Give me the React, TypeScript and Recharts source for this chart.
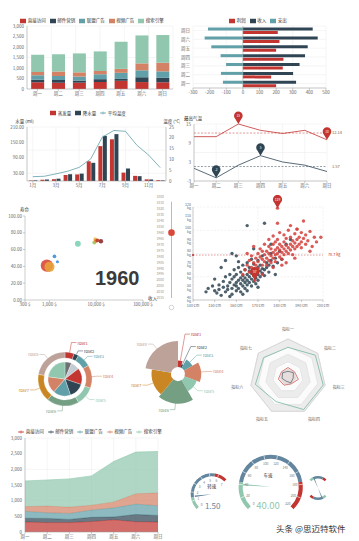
import React from 'react';
import {
  BarChart, Bar, XAxis, YAxis, CartesianGrid, Legend, ComposedChart, Line, LineChart,
  ReferenceDot, ReferenceLine, ScatterChart, Scatter, ZAxis, PieChart, Pie, Cell,
  RadarChart, Radar, PolarGrid, PolarAngleAxis, PolarRadiusAxis, AreaChart, Area,
  RadialBarChart, RadialBar,
} from 'recharts';

// ---------------- data ----------------
const weekDays = ['周一', '周二', '周三', '周四', '周五', '周六', '周日'];
const trafficNames = ['直接访问', '邮件营销', '联盟广告', '视频广告', '搜索引擎'];
const directVisits = [320, 302, 301, 334, 390, 330, 320];
const emailMarketing = [120, 132, 101, 134, 90, 230, 210];
const allianceAds = [220, 182, 191, 234, 290, 330, 310];
const videoAds = [150, 212, 201, 154, 190, 330, 410];
const searchEngine = [820, 832, 901, 934, 1290, 1330, 1320];
const stackTicks = [0, 500, 1000, 1500, 2000, 2500, 3000];

const profitNames = ['利润', '收入', '支出'];
const profit = [200, 170, 240, 244, 200, 220, 210];
const income = [320, 302, 341, 374, 390, 450, 420];
const expense = [-120, -132, -101, -134, -190, -230, -210];
const profitTicks = [-300, -200, -100, 0, 100, 200, 300, 400, 500];

const months = ['1月', '2月', '3月', '4月', '5月', '6月', '7月', '8月', '9月', '10月', '11月', '12月'];
const evaporation = [2.0, 4.9, 7.0, 23.2, 25.6, 76.7, 135.6, 162.2, 32.6, 20.0, 6.4, 3.3];
const precipitation = [2.6, 5.9, 9.0, 26.4, 28.7, 70.7, 175.6, 182.2, 48.7, 18.8, 6.0, 2.3];
const avgTemperature = [2.0, 2.2, 3.3, 4.5, 6.3, 10.2, 20.3, 23.4, 23.0, 16.5, 12.0, 6.2];
const waterTicks = [0, 30, 60, 90, 120, 150, 180, 210];
const tempTicks = [0, 5, 10, 15, 20, 25];

const highTemp = [11, 11, 15, 13, 12, 13, 10];
const lowTemp = [1, -2, 2, 5, 3, 2, 0];
const weekTempTicks = [-3, 0, 3, 6, 9, 12, 15];

const bubbleIncome = [880, 1000, 1280, 1480, 4050, 9100, 9500, 9900, 10600, 12600];
const bubbleLife = [41, 39.5, 52, 45.5, 67, 68.5, 72.5, 70.5, 71, 70];
const bubblePopulation = [667, 450, 60, 40, 150, 70, 60, 80, 60, 85];
const bubbleColors = ['#d9483b', '#e9a23b', '#3f8fd8', '#3f8fd8', '#7fd1b4', '#9cc95c', '#f2c14e', '#e58a3a', '#c0392b', '#8b2e2e'];
const incomeTicks = [300, 1000, 10000, 100000];
const lifeTicks = [0, 20, 40, 60, 80, 100];
const timelineYears = ['1800', '1810', '1820', '1830', '1840', '1850', '1960', '1965', '1970', '1975', '1980', '1985', '1990', '1995', '2000', '2005', '2010', '2015'];
const currentYear = '1960';

const darkPoints = [
  [147, 50], [149, 52], [150, 48], [151, 46], [152, 53], [152, 49], [153, 44], [154, 51], [154, 56], [155, 47],
  [155, 60], [156, 52], [156, 49], [157, 55], [157, 62], [158, 50], [158, 58], [158, 45], [159, 53], [159, 66],
  [159, 60], [160, 48], [160, 55], [160, 52], [160, 62], [161, 57], [161, 50], [161, 68], [162, 54], [162, 59],
  [162, 47], [162, 64], [163, 52], [163, 57], [163, 61], [163, 70], [164, 55], [164, 50], [164, 66], [164, 59],
  [165, 53], [165, 62], [165, 57], [165, 72], [165, 48], [166, 60], [166, 55], [166, 65], [166, 68], [167, 58],
  [167, 52], [167, 63], [167, 75], [168, 61], [168, 56], [168, 66], [168, 71], [169, 59], [169, 64], [169, 54],
  [170, 62], [170, 68], [170, 57], [170, 74], [171, 65], [171, 60], [171, 70], [172, 63], [172, 67], [172, 78],
  [173, 66], [173, 61], [174, 72], [174, 68], [175, 70], [175, 64], [176, 74], [176, 80], [177, 69], [178, 76],
  [179, 72], [180, 82], [181, 75], [183, 88], [185, 92], [165, 104], [173, 106], [158, 80], [155, 74], [150, 58],
  [153, 68], [160, 78], [168, 84], [176, 88], [178, 62], [157, 43], [163, 45], [170, 51], [146, 47], [161, 73],
];
const redPoints = [
  [163, 62], [164, 66], [165, 70], [166, 64], [166, 74], [167, 68], [167, 78], [168, 72], [168, 65], [169, 76],
  [169, 70], [170, 80], [170, 73], [170, 67], [171, 77], [171, 84], [172, 70], [172, 75], [172, 82], [173, 79],
  [173, 73], [173, 88], [174, 76], [174, 82], [174, 70], [175, 80], [175, 86], [175, 74], [175, 92], [176, 78],
  [176, 84], [176, 72], [177, 81], [177, 88], [177, 76], [177, 95], [178, 83], [178, 79], [178, 90], [178, 73],
  [179, 85], [179, 80], [179, 92], [180, 77], [180, 83], [180, 88], [180, 98], [181, 81], [181, 86], [181, 75],
  [182, 84], [182, 90], [182, 79], [182, 96], [183, 82], [183, 87], [183, 93], [184, 85], [184, 80], [184, 100],
  [185, 88], [185, 83], [185, 94], [186, 86], [186, 91], [186, 79], [187, 89], [187, 84], [187, 97], [188, 92],
  [188, 86], [188, 101], [189, 88], [189, 94], [190, 90], [190, 85], [190, 98], [191, 93], [192, 88], [192, 96],
  [193, 91], [194, 99], [195, 86], [196, 94], [197, 90], [199, 94], [191, 108], [188, 101], [185, 104], [179, 106],
  [172, 62], [177, 68], [168, 86], [165, 80], [183, 72], [187, 76], [194, 82], [179, 119], [168.5, 57], [181, 70],
];
const heightTicks = [140, 150, 160, 170, 180, 190, 200];
const weightTicks = [40, 50, 60, 70, 80, 90, 100, 110, 120];
const redAvgWeight = 78.7;

const roseNames = ['rose1', 'rose2', 'rose3', 'rose4', 'rose5', 'rose6', 'rose7', 'rose8'];
const roseValues = [10, 5, 15, 25, 20, 35, 30, 40];
const innerPieNames = ['a', 'b', 'c', 'd', 'e', 'f', 'g'];
const innerPieValues = [6, 8, 15, 14, 16, 15, 22];

const radarIndicators = ['指标一', '指标二', '指标三', '指标四', '指标五', '指标六', '指标七'];
const radarGreen = [78, 92, 95, 95, 72, 88, 82];
const radarRed = [25, 22, 28, 20, 24, 26, 22];
const radarDark = [15, 18, 14, 17, 12, 16, 18];
const radarSplits = [100, 80, 60, 40, 20];

const speedValue = 40;
const speedMax = 220;
const speedTicks = [0, 20, 40, 60, 80, 100, 120, 140, 160, 180, 200, 220];
const rpmValue = 1.5;
const rpmMax = 7;
const rpmTicks = [0, 1, 2, 3, 4, 5, 6, 7];
const fuelValue = 0.5;
const waterValue = 0.5;
const smallMax = 2;
const gaugeStops = [0.2, 0.8, 1.0];

// ---------------- styles ----------------
const FONT = '"Noto Sans CJK SC", "Noto Sans", "Liberation Sans", sans-serif';
const C = {
  red: '#c23531', dark: '#2f4554', teal: '#61a0a8', orange: '#d48265', green: '#91c7ae',
  g2: '#749f83', amber: '#ca8622', brown: '#bda29a', gray: '#6e7074', slate: '#546570', light: '#c4ccd3',
};
const trafficColors = [C.red, C.dark, C.teal, C.orange, C.green];
const roseColors = [C.red, C.dark, C.teal, C.orange, C.green, C.g2, C.amber, C.brown];
const innerPieColors = [C.gray, C.light, C.red, C.dark, C.teal, C.orange, C.green];
const nestedLabelLen = [10, 4, 5, 5, 5, 5, 5, 5];
const roseLabelLen = [27, 20, 10, 6, 6, 6, 6, 6];
const gaugeColors = ['#91c7ae', '#63869e', '#c23531'];
const TICK = { fontSize: 4.5, fill: '#666' };
const AXIS = { stroke: '#999', strokeWidth: 0.5 };
const GRID = '#ebebeb';
const legendText = (v: any) => <span style={{ color: '#333' }}>{v}</span>;
const legendBase: any = { verticalAlign: 'middle', align: 'center', layout: 'horizontal', iconSize: 6, formatter: legendText, itemSorter: 'dataKey' };
const legendWrap = { fontSize: 4.5, lineHeight: '7px' };
const fmtComma = (v: number) => v.toLocaleString('en-US');

const css = `
.recharts-legend-item { margin-right: 4px !important; }
.recharts-legend-item svg { margin-right: 1.5px !important; }
`;

function makePin(color: string, text: string, r = 4.3) {
  return (p: any) => {
    const { cx, cy } = p;
    if (cx == null || cy == null) return <g />;
    const by = cy - r * 1.9;
    const sx = r * 0.72;
    const sy = r * 0.69;
    const d = `M${cx},${cy} L${cx - sx},${by + sy} A${r},${r} 0 1 1 ${cx + sx},${by + sy} Z`;
    return (
      <g>
        <path d={d} fill={color} />
        <text x={cx} y={by} textAnchor="middle" dominantBaseline="central" fontSize={r * 0.72} fill="#fff">{text}</text>
      </g>
    );
  };
}

// ---------------- charts ----------------
const stackData = weekDays.map((day, i) => ({
  day, v0: directVisits[i], v1: emailMarketing[i], v2: allianceAds[i], v3: videoAds[i], v4: searchEngine[i],
}));
const trafficKeys = ['v0', 'v1', 'v2', 'v3', 'v4'];

function StackedBars() {
  return (
    <div style={{ position: 'absolute', left: 0, top: 0 }}>
      <BarChart width={180} height={100} data={stackData} margin={{ top: 26, right: 7, bottom: 3, left: 0 }} barCategoryGap="20%">
        <XAxis xAxisId="g" type="number" domain={[0, 7]} ticks={[0, 1, 2, 3, 4, 5, 6, 7]} hide />
        <CartesianGrid xAxisId="g" stroke={GRID} strokeWidth={0.5} />
        <XAxis dataKey="day" interval={0} height={8} tick={TICK} tickSize={2} tickMargin={1} axisLine={AXIS} tickLine={AXIS} />
        <YAxis width={27} domain={[0, 3000]} ticks={stackTicks} tickFormatter={fmtComma} tick={TICK} tickSize={2} tickMargin={1} axisLine={AXIS} tickLine={false} />
        <Legend {...legendBase} wrapperStyle={{ ...legendWrap, top: 17, left: 14, width: 160 }} />
        {trafficKeys.map((k, i) => (
          <Bar key={k} dataKey={k} name={trafficNames[i]} stackId="t" fill={trafficColors[i]} isAnimationActive={false} />
        ))}
      </BarChart>
    </div>
  );
}

const profitData = weekDays.map((day, i) => ({ day, k0: profit[i], k1: income[i], k2: expense[i] }));

function ProfitBars() {
  return (
    <div style={{ position: 'absolute', left: 180, top: 0 }}>
      <BarChart layout="vertical" width={179} height={100} data={profitData} margin={{ top: 26, right: 33, bottom: 4, left: 0 }}
        stackOffset="sign" barCategoryGap="18%" barGap={0.5}>
        <CartesianGrid stroke={GRID} strokeWidth={0.5} />
        <XAxis type="number" domain={[-300, 500]} ticks={profitTicks} height={8} tick={TICK} tickSize={2} tickMargin={1} axisLine={AXIS} tickLine={AXIS} />
        <YAxis type="category" dataKey="day" reversed width={13} tick={TICK} tickSize={2} tickMargin={1} axisLine={false} tickLine={false} interval={0} />
        <ReferenceLine x={0} stroke="#999" strokeWidth={0.5} />
        <Legend {...legendBase} wrapperStyle={{ ...legendWrap, top: 17, left: 30, width: 100 }} />
        <Bar dataKey="k0" name={profitNames[0]} fill={C.red} isAnimationActive={false} />
        <Bar dataKey="k1" name={profitNames[1]} stackId="total" fill={C.dark} isAnimationActive={false} />
        <Bar dataKey="k2" name={profitNames[2]} stackId="total" fill={C.teal} isAnimationActive={false} />
      </BarChart>
    </div>
  );
}

const rainData = months.map((m, i) => ({ m, k0: evaporation[i], k1: precipitation[i], k2: avgTemperature[i] }));

function RainChart() {
  return (
    <div style={{ position: 'absolute', left: 0, top: 100 }}>
      <ComposedChart width={180} height={100} data={rainData} margin={{ top: 27, right: 2, bottom: 11, left: 0 }} barGap={0.5} barCategoryGap="16%">
        <CartesianGrid yAxisId="l" stroke={GRID} strokeWidth={0.5} />
        <XAxis dataKey="m" interval={1} height={8} tick={TICK} tickSize={2} tickMargin={1} axisLine={AXIS} tickLine={AXIS} />
        <YAxis yAxisId="l" width={27} domain={[0, 210]} ticks={waterTicks} tickFormatter={(v: number) => v.toFixed(2)} tick={TICK}
          tickSize={2} tickMargin={1} axisLine={AXIS} tickLine={false}
          label={{ value: '水量 (ml)', position: 'top', offset: 4, dx: 11, fontSize: 4.5, fill: '#333' }} />
        <YAxis yAxisId="r" orientation="right" width={12} domain={[0, 25]} ticks={tempTicks} tick={TICK}
          tickSize={2} tickMargin={1} axisLine={AXIS} tickLine={false}
          label={{ value: '温度 (°C)', position: 'top', offset: 4, fontSize: 4.5, fill: '#333' }} />
        <Legend {...legendBase} wrapperStyle={{ ...legendWrap, top: 9.5, left: 40, width: 100 }} />
        <Bar yAxisId="l" dataKey="k0" name="蒸发量" fill={C.red} isAnimationActive={false} />
        <Bar yAxisId="l" dataKey="k1" name="降水量" fill={C.dark} isAnimationActive={false} />
        <Line yAxisId="r" dataKey="k2" name="平均温度" stroke={C.teal} strokeWidth={0.8} dot={false} isAnimationActive={false} />
      </ComposedChart>
    </div>
  );
}

const tempData = weekDays.map((day, i) => ({ day, hi: highTemp[i], lo: lowTemp[i] }));
const avgHi = highTemp.reduce((a, b) => a + b, 0) / highTemp.length;
const avgLo = lowTemp.reduce((a, b) => a + b, 0) / lowTemp.length;
const maxHi = Math.max(...highTemp);
const minHi = Math.min(...highTemp);
const maxLo = Math.max(...lowTemp);
const minLo = Math.min(...lowTemp);

function TempChart() {
  return (
    <div style={{ position: 'absolute', left: 180, top: 100 }}>
      <LineChart width={179} height={100} data={tempData} margin={{ top: 24, right: 32, bottom: 11, left: 0 }}>
        <CartesianGrid stroke={GRID} strokeWidth={0.5} />
        <XAxis dataKey="day" interval={0} height={8} tick={TICK} tickSize={2} tickMargin={1} axisLine={AXIS} tickLine={AXIS} />
        <YAxis width={14} domain={[-3, 15]} ticks={weekTempTicks} tick={TICK} tickSize={2} tickMargin={1} axisLine={AXIS} tickLine={false}
          label={{ value: '最高气温', position: 'top', offset: 4, dx: 6, fontSize: 4.5, fill: '#333' }} />
        <ReferenceLine y={avgHi} stroke={C.red} strokeWidth={0.5} strokeDasharray="2 1.5"
          label={{ value: avgHi.toFixed(2), position: 'right', fontSize: 4, fill: '#666' }} />
        <ReferenceLine y={avgLo} stroke={C.dark} strokeWidth={0.5} strokeDasharray="2 1.5"
          label={{ value: avgLo.toFixed(2), position: 'right', fontSize: 4, fill: '#666' }} />
        <Line dataKey="hi" name="最高气温" stroke={C.red} strokeWidth={0.8} dot={false} isAnimationActive={false} />
        <Line dataKey="lo" name="最低气温" stroke={C.dark} strokeWidth={0.8} dot={false} isAnimationActive={false} />
        <ReferenceDot x={weekDays[highTemp.indexOf(maxHi)]} y={maxHi} ifOverflow="visible" shape={makePin(C.red, String(maxHi))} />
        <ReferenceDot x={weekDays[highTemp.lastIndexOf(minHi)]} y={minHi} ifOverflow="visible" shape={makePin(C.red, String(minHi))} />
        <ReferenceDot x={weekDays[lowTemp.indexOf(maxLo)]} y={maxLo} ifOverflow="visible" shape={makePin(C.dark, String(maxLo))} />
        <ReferenceDot x={weekDays[lowTemp.indexOf(minLo)]} y={minLo} ifOverflow="visible" shape={makePin(C.dark, String(minLo))} />
      </LineChart>
    </div>
  );
}

const bubbleData = bubbleIncome.map((x, i) => ({ x, y: bubbleLife[i], z: bubblePopulation[i] }));

function BubbleChart() {
  return (
    <div style={{ position: 'absolute', left: 0, top: 195 }}>
      <ScatterChart width={180} height={130} margin={{ top: 21, right: 37, bottom: 17, left: 0 }}>
        <XAxis type="number" dataKey="x" scale="log" domain={[300, 100000]} ticks={incomeTicks} tickFormatter={(v: number) => fmtComma(v) + ' $'}
          height={8} tick={TICK} tickSize={2} tickMargin={1} axisLine={AXIS} tickLine={AXIS} allowDataOverflow
          label={{ value: '收入', position: 'right', offset: 5, dy: -6, fontSize: 4.5, fill: '#333' }} />
        <YAxis type="number" dataKey="y" domain={[0, 100]} ticks={lifeTicks} tickFormatter={(v: number) => v.toFixed(2)} width={25}
          tick={TICK} tickSize={2} tickMargin={1} axisLine={AXIS} tickLine={AXIS}
          label={{ value: '寿命', position: 'top', offset: 5, dx: 12, fontSize: 4.5, fill: '#333' }} />
        <ZAxis type="number" dataKey="z" domain={[0, 700]} range={[0, 125]} />
        <Scatter data={bubbleData} isAnimationActive={false} fillOpacity={0.9}>
          {bubbleData.map((d, i) => <Cell key={i} fill={bubbleColors[i]} />)}
        </Scatter>
      </ScatterChart>
      <div style={{ position: 'absolute', left: 95, top: 73, fontFamily: '"Liberation Sans", sans-serif', fontWeight: 'bold', fontSize: 20, lineHeight: '20px', color: '#3a3a3a' }}>
        {currentYear}
      </div>
    </div>
  );
}

function Timeline() {
  const idx = timelineYears.indexOf(currentYear);
  return (
    <div style={{ position: 'absolute', left: 150, top: 195 }}>
      <ScatterChart width={30} height={130} margin={{ top: 2, right: 3, bottom: 27, left: 0 }}>
        <XAxis type="number" dataKey="x" domain={[-1, 1]} hide />
        <YAxis type="number" dataKey="y" domain={[0, timelineYears.length - 1]} reversed ticks={timelineYears.map((_, i) => i)}
          tickFormatter={(i: number) => timelineYears[i]} interval={0} width={16} axisLine={false} tickLine={false}
          tick={{ fontSize: 3.4, fill: '#999' }} tickMargin={1} tickSize={1} />
        <ReferenceLine segment={[{ x: 0, y: 0.8 }, { x: 0, y: timelineYears.length - 1 }]} stroke="#bbb" strokeWidth={1} />
        <ReferenceDot x={0} y={timelineYears.length + 0.6} r={2.3} fill="#fff" stroke="#aaa" strokeWidth={0.5} ifOverflow="visible" />
        <Scatter data={[{ x: 0, y: idx }]} isAnimationActive={false}
          shape={(p: any) => <circle cx={p.cx} cy={p.cy} r={3.3} fill="#d9483b" />} />
      </ScatterChart>
    </div>
  );
}

const darkData = darkPoints.map(([x, y]) => ({ x, y }));
const redData = redPoints.map(([x, y]) => ({ x, y }));
const redMax = redData.reduce((a, b) => (b.y > a.y ? b : a));
const redMin = redData.reduce((a, b) => (b.y < a.y ? b : a));

function WeightScatter() {
  return (
    <div style={{ position: 'absolute', left: 178, top: 195 }}>
      <ScatterChart width={181} height={130} margin={{ top: 12, right: 36, bottom: 16, left: 0 }}>
        <CartesianGrid stroke="#e4e4e4" strokeWidth={0.5} strokeDasharray="2 1.5" />
        <XAxis type="number" dataKey="x" domain={[140, 200]} ticks={heightTicks} tickFormatter={(v: number) => v + ' cm'}
          height={9} tick={{ fontSize: 3.8, fill: '#666' }} tickSize={2} tickMargin={2.5} axisLine={AXIS} tickLine={AXIS} />
        <YAxis type="number" dataKey="y" domain={[40, 120]} ticks={weightTicks} tickFormatter={(v: number) => v + ' kg'}
          width={15} tick={{ fontSize: 3.6, fill: '#666', dy: -0.8 }} tickSize={1} tickMargin={1} axisLine={AXIS} tickLine={false} />
        <Scatter data={darkData} isAnimationActive={false}
          shape={(p: any) => <circle cx={p.cx} cy={p.cy} r={1.7} fill={C.dark} fillOpacity={0.85} />} />
        <Scatter data={redData} isAnimationActive={false}
          shape={(p: any) => <circle cx={p.cx} cy={p.cy} r={1.7} fill="#d2403b" fillOpacity={0.85} />} />
        <ReferenceLine y={redAvgWeight} stroke={C.red} strokeWidth={0.5} strokeDasharray="1.5 1.5"
          label={{ value: redAvgWeight + ' kg', position: 'right', fontSize: 3.8, fill: C.red }} />
        <ReferenceDot x={140} y={redAvgWeight} r={1.1} fill={C.red} stroke="none" ifOverflow="visible" />
        <ReferenceDot x={redMax.x} y={redMax.y} ifOverflow="visible" shape={makePin(C.red, String(redMax.y), 4.6)} />
        <ReferenceDot x={redMin.x} y={redMin.y} ifOverflow="visible" shape={makePin(C.red, String(redMin.y), 4.6)} />
      </ScatterChart>
    </div>
  );
}

const RAD = Math.PI / 180;
function drawPieLabel(p: any, color: string, l1: number, l2: number) {
  const { cx, cy, midAngle, outerRadius, name } = p;
  const cos = Math.cos(-midAngle * RAD);
  const sin = Math.sin(-midAngle * RAD);
  const x1 = cx + outerRadius * cos;
  const y1 = cy + outerRadius * sin;
  const x2 = cx + (outerRadius + l1) * cos;
  const y2 = cy + (outerRadius + l1) * sin;
  const dir = cos >= 0 ? 1 : -1;
  const x3 = x2 + dir * l2;
  return (
    <g>
      <polyline points={`${x1},${y1} ${x2},${y2} ${x3},${y2}`} fill="none" stroke={color} strokeWidth={0.5} />
      <text x={x3 + dir} y={y2} textAnchor={dir > 0 ? 'start' : 'end'} dominantBaseline="central" fontSize={4} fill={color}>{name}</text>
    </g>
  );
}

const roseData = roseNames.map((name, i) => ({ name, value: roseValues[i] }));
const innerPieData = innerPieNames.map((name, i) => ({ name, value: innerPieValues[i] }));

function NestedPie() {
  return (
    <div style={{ position: 'absolute', left: 0, top: 325 }}>
      <PieChart width={125} height={100} margin={{ top: 0, right: 0, bottom: 0, left: 0 }}>
        <Pie data={innerPieData} dataKey="value" nameKey="name" cx={65} cy={54} innerRadius={0} outerRadius={17}
          startAngle={90} endAngle={-270} stroke="#fff" strokeWidth={0.3} isAnimationActive={false}>
          {innerPieData.map((d, i) => <Cell key={i} fill={innerPieColors[i]} />)}
        </Pie>
        <Pie data={roseData} dataKey="value" nameKey="name" cx={65} cy={54} innerRadius={21} outerRadius={27}
          startAngle={90} endAngle={-270} stroke="#fff" strokeWidth={0.3} isAnimationActive={false} labelLine={false}
          label={(p: any) => drawPieLabel(p, roseColors[p.index], nestedLabelLen[p.index], 5)}>
          {roseData.map((d, i) => <Cell key={i} fill={roseColors[i]} />)}
        </Pie>
      </PieChart>
    </div>
  );
}

const roseMax = Math.max(...roseValues);
function RosePie() {
  const inner = 7;
  const outer = 33;
  return (
    <div style={{ position: 'absolute', left: 120, top: 325 }}>
      <PieChart width={110} height={100} margin={{ top: 0, right: 0, bottom: 0, left: 0 }}>
        {roseData.map((d, i) => (
          <Pie key={i} data={roseData} dataKey="value" nameKey="name" cx={58} cy={49} innerRadius={inner}
            outerRadius={inner + (outer - inner) * d.value / roseMax}
            startAngle={90} endAngle={-270} stroke="none" isAnimationActive={false} labelLine={false}
            label={(p: any) => (p.index === i ? drawPieLabel(p, roseColors[i], roseLabelLen[i], 5) : null)}>
            {roseData.map((e, j) => <Cell key={j} fill={j === i ? roseColors[i] : 'transparent'} />)}
          </Pie>
        ))}
      </PieChart>
    </div>
  );
}

const radarData = radarIndicators.map((name, i) => ({
  name, a: radarGreen[i], b: radarRed[i], c: radarDark[i],
  s0: radarSplits[0], s1: radarSplits[1], s2: radarSplits[2], s3: radarSplits[3], s4: radarSplits[4],
}));
const splitFills = ['#ececec', '#fbfbfb', '#ececec', '#fbfbfb', '#ececec'];

function RadarBlock() {
  return (
    <div style={{ position: 'absolute', left: 228, top: 325 }}>
      <RadarChart width={131} height={100} cx={60} cy={52} outerRadius={38} data={radarData} margin={{ top: 0, right: 0, bottom: 0, left: 0 }}>
        <PolarGrid gridType="polygon" stroke="#d6d6d6" strokeWidth={0.5} />
        <PolarAngleAxis dataKey="name" tick={{ fontSize: 4, fill: '#666' }} tickLine={false} axisLine={{ stroke: '#ccc', strokeWidth: 0.5 }} />
        <PolarRadiusAxis domain={[0, 100]} tick={false} axisLine={false} />
        {radarSplits.map((s, i) => (
          <Radar key={'s' + i} dataKey={'s' + i} stroke="#d6d6d6" strokeWidth={0.5} fill={splitFills[i]} fillOpacity={1} isAnimationActive={false} />
        ))}
        <Radar dataKey="a" name="A" stroke="#78b8a0" strokeWidth={0.8} fill="none" isAnimationActive={false} />
        <Radar dataKey="b" name="B" stroke={C.red} strokeWidth={0.6} fill={C.red} fillOpacity={0.08} isAnimationActive={false} />
        <Radar dataKey="c" name="C" stroke={C.dark} strokeWidth={0.6} fill="none" isAnimationActive={false} />
      </RadarChart>
    </div>
  );
}

function AreaBlock() {
  return (
    <div style={{ position: 'absolute', left: 0, top: 425 }}>
      <AreaChart width={180} height={116} data={stackData} margin={{ top: 13, right: 22, bottom: 1, left: 0 }}>
        <CartesianGrid stroke={GRID} strokeWidth={0.5} />
        <XAxis dataKey="day" interval={0} height={8} tick={TICK} tickSize={2} tickMargin={1} axisLine={AXIS} tickLine={AXIS} />
        <YAxis width={25} domain={[0, 3000]} ticks={stackTicks} tickFormatter={fmtComma} tick={TICK} tickSize={2} tickMargin={1} axisLine={AXIS} tickLine={false} />
        <Legend {...legendBase} wrapperStyle={{ ...legendWrap, top: 3, left: 14, width: 156 }} />
        {trafficKeys.map((k, i) => (
          <Area key={k} type="linear" dataKey={k} name={trafficNames[i]} stackId="a" stroke={trafficColors[i]} strokeWidth={0.6}
            fill={trafficColors[i]} fillOpacity={0.72} isAnimationActive={false} />
        ))}
      </AreaChart>
    </div>
  );
}

function Gauge(props: any) {
  const { W, H, cx, cy, r, thick, start, end, max, value, ticks, tickFmt, tickFont, needleW, needleLen, needleColor } = props;
  const bandData = gaugeStops.map((s, i) => ({ v: (s - (i ? gaugeStops[i - 1] : 0)) * max }));
  const needleData = [{ v: Math.max(value - needleW / 2, 0) }, { v: needleW }, { v: Math.max(max - value - needleW / 2, 0) }];
  const tickRender = (p: any) => {
    const dx = cx - p.x;
    const dy = cy - p.y;
    const d = Math.hypot(dx, dy) || 1;
    const inset = tickFont * 1.2;
    const x = p.x + (dx / d) * inset;
    const y = p.y + (dy / d) * inset;
    return <text x={x} y={y} textAnchor="middle" dominantBaseline="central" fontSize={tickFont} fill="#777">{tickFmt(p.payload.value)}</text>;
  };
  return (
    <>
      <div style={{ position: 'absolute', left: 0, top: 0 }}>
        <PieChart width={W} height={H} margin={{ top: 0, right: 0, bottom: 0, left: 0 }}>
          <Pie data={bandData} dataKey="v" cx={cx} cy={cy} innerRadius={r - thick} outerRadius={r} startAngle={start} endAngle={end}
            stroke="none" isAnimationActive={false}>
            {bandData.map((d, i) => <Cell key={i} fill={gaugeColors[i]} />)}
          </Pie>
          <Pie data={needleData} dataKey="v" cx={cx} cy={cy} innerRadius={0} outerRadius={needleLen} startAngle={start} endAngle={end}
            stroke="none" isAnimationActive={false}>
            {needleData.map((d, i) => <Cell key={i} fill={i === 1 ? needleColor : 'transparent'} />)}
          </Pie>
          <Pie data={[{ v: 1 }]} dataKey="v" cx={cx} cy={cy} innerRadius={0} outerRadius={1.4} stroke="none" fill={needleColor} isAnimationActive={false} />
        </PieChart>
      </div>
      {ticks ? (
        <div style={{ position: 'absolute', left: 0, top: 0 }}>
          <RadialBarChart width={W} height={H} cx={cx} cy={cy} innerRadius={0} outerRadius={r} startAngle={start} endAngle={end}
            data={[{ v: value }]} margin={{ top: 0, right: 0, bottom: 0, left: 0 }}>
            <PolarAngleAxis type="number" domain={[0, max]} ticks={ticks} axisLine={false} orientation="inner" tickSize={thick}
              tickLine={{ stroke: '#fff', strokeWidth: 0.6 }} tick={tickRender} />
            <RadialBar dataKey="v" fill="none" isAnimationActive={false} />
          </RadialBarChart>
        </div>
      ) : null}
    </>
  );
}

function Gauges() {
  const W = 179;
  const H = 116;
  return (
    <div style={{ position: 'absolute', left: 180, top: 425, width: W, height: H }}>
      <Gauge W={W} H={H} cx={31.7} cy={69.3} r={21} thick={3} start={225} end={45} max={rpmMax} value={rpmValue}
        ticks={rpmTicks} tickFmt={(v: number) => String(v)} tickFont={3.2} needleW={0.2} needleLen={17} needleColor="#63869e" />
      <Gauge W={W} H={H} cx={90.7} cy={61.7} r={32} thick={4} start={225} end={-45} max={speedMax} value={speedValue}
        ticks={speedTicks} tickFmt={(v: number) => String(v)} tickFont={3.2} needleW={2.6} needleLen={28} needleColor="#91c7ae" />
      <Gauge W={W} H={H} cx={138} cy={63} r={12} thick={2.5} start={135} end={45} max={smallMax} value={fuelValue}
        ticks={null} needleW={0.12} needleLen={10} needleColor="#63869e" />
      <Gauge W={W} H={H} cx={138} cy={63} r={12} thick={2.5} start={315} end={225} max={smallMax} value={waterValue}
        ticks={null} needleW={0.12} needleLen={10} needleColor="#63869e" />
      <div style={{ position: 'absolute', left: 21.7, top: 58, width: 20, textAlign: 'center', fontSize: 4.5, color: '#333' }}>转速</div>
      <div style={{ position: 'absolute', left: 12.7, top: 76, width: 40, textAlign: 'center', fontSize: 8, lineHeight: '10px', color: '#63869e' }}>{rpmValue.toFixed(2)}</div>
      <div style={{ position: 'absolute', left: 78, top: 46.5, width: 20, textAlign: 'center', fontSize: 4.5, color: '#333' }}>车速</div>
      <div style={{ position: 'absolute', left: 68, top: 75, width: 40, textAlign: 'center', fontSize: 9.5, lineHeight: '11px', color: '#91c7ae' }}>{speedValue.toFixed(2)}</div>
    </div>
  );
}

export default function App() {
  return (
    <div style={{ position: 'absolute', left: 0, top: 0, width: 359, height: 541, background: '#fff', fontFamily: FONT, overflow: 'hidden' }}>
      <style>{css}</style>
      <StackedBars />
      <ProfitBars />
      <RainChart />
      <TempChart />
      <Timeline />
      <BubbleChart />
      <WeightScatter />
      <NestedPie />
      <RosePie />
      <RadarBlock />
      <AreaBlock />
      <Gauges />
      <div style={{ position: 'absolute', left: 276, top: 523, fontSize: 8.5, lineHeight: '11px', color: '#333', textShadow: '0 0 1px #fff' }}>
        头条 @思迈特软件
      </div>
    </div>
  );
}
